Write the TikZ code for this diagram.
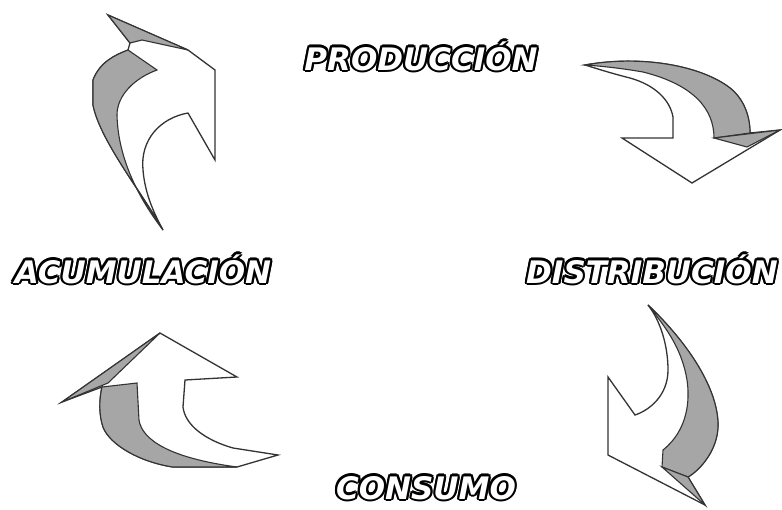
\documentclass[tikz,border=0pt]{standalone}
\usepackage{fontspec}
\newfontfamily\labfont{DejaVu Sans}
\usetikzlibrary{calc}
\tikzset{
  arrowbody/.style={fill=white, draw=black!80, line width=1.3pt, line join=miter},
  shade3d/.style={fill=black!35, draw=black!80, line width=1.1pt, line join=miter},
  lab/.style={font=\labfont\bfseries\itshape\fontsize{31}{31}\selectfont, inner sep=0pt, anchor=base},
}
\newcommand\outlinedlabel[3]{%
  \foreach \ang in {0,30,...,330}{\node[lab,text=black] at ($(#1)+(\ang:2.2)$) {#3};}
  \node[lab,text=white] (#2) at (#1) {#3};
}
\begin{document}
\begin{tikzpicture}[x=1pt,y=-1pt]
\path[fill=white,use as bounding box] (0,0) rectangle (782,509);

% ---- top-left arrow ----
\filldraw[arrowbody] (108,15) -- (188,50) -- (215,70) -- (215,160) -- (188,113)
  .. controls (160,118) and (140,140) .. (143,170)
  .. controls (145,195) and (155,215) .. (163,230)
  .. controls (140,190) and (100,140) .. (93,105) -- (93,80)
  .. controls (100,62) and (115,55) .. (128,50) -- (130,43) -- cycle;
\filldraw[shade3d] (128,50) .. controls (115,55) and (100,62) .. (93,80) -- (93,105)
  .. controls (100,140) and (140,190) .. (163,230)
  .. controls (140,200) and (118,160) .. (117,115)
  .. controls (117,95) and (135,78) .. (157,70) -- cycle;
\filldraw[shade3d] (108,15) -- (188,50) -- (142,40) -- (130,43) -- cycle;

% ---- top-right arrow ----
\filldraw[arrowbody] (585,65) .. controls (640,55) and (700,65) .. (730,88)
  .. controls (745,100) and (750,118) .. (750,133) -- (780,130) -- (692,183)
  -- (622,138) -- (673,138) -- (673,117)
  .. controls (670,100) and (655,85) .. (630,78)
  .. controls (610,73) and (595,68) .. cycle;
\filldraw[shade3d] (585,65) .. controls (640,55) and (700,65) .. (730,88)
  .. controls (745,100) and (750,118) .. (750,133) -- (714,138)
  .. controls (714,110) and (695,85) .. (643,72)
  .. controls (620,68) and (600,66) .. cycle;
\filldraw[shade3d] (714,138) -- (780,130) -- (747,147) -- cycle;

% ---- bottom-right arrow ----
\filldraw[arrowbody] (648,305) .. controls (690,345) and (718,390) .. (718,425)
  .. controls (718,450) and (700,470) .. (688,477) -- (705,505) -- (608,455)
  -- (608,377) -- (635,415)
  .. controls (650,410) and (668,395) .. (668,370)
  .. controls (668,345) and (660,320) .. cycle;
\filldraw[shade3d] (648,305) .. controls (690,345) and (718,390) .. (718,425)
  .. controls (718,450) and (700,470) .. (688,477) -- (662,467) -- (663,450)
  .. controls (688,430) and (690,400) .. (687,380)
  .. controls (682,350) and (668,330) .. cycle;
\filldraw[shade3d] (662,467) -- (688,477) -- (705,505) -- cycle;

% ---- bottom-left arrow ----
\filldraw[arrowbody] (62,402) -- (160,333) -- (237,377) -- (185,380) -- (183,407)
  .. controls (185,425) and (205,440) .. (233,448) -- (278,455) -- (237,467) -- (173,467)
  .. controls (140,462) and (110,445) .. (103,427)
  .. controls (99,415) and (99,400) .. (102,387) -- cycle;
\filldraw[shade3d] (102,387) -- (137,383) -- (139,420)
  .. controls (142,440) and (170,458) .. (237,467) -- (173,467)
  .. controls (140,462) and (110,445) .. (103,427)
  .. controls (99,415) and (99,400) .. cycle;
\filldraw[shade3d] (62,402) -- (160,333) -- (108,383) -- cycle;

% ---- labels ----
\coordinate (pP) at (421,70);
\coordinate (pD) at (652,283);
\coordinate (pA) at (143,283);
\coordinate (pC) at (426,499);
\outlinedlabel{pP}{prod}{PRODUCCIÓN}
\outlinedlabel{pD}{dist}{DISTRIBUCIÓN}
\outlinedlabel{pA}{acum}{ACUMULACIÓN}
\outlinedlabel{pC}{cons}{CONSUMO}
\end{tikzpicture}
\end{document}
